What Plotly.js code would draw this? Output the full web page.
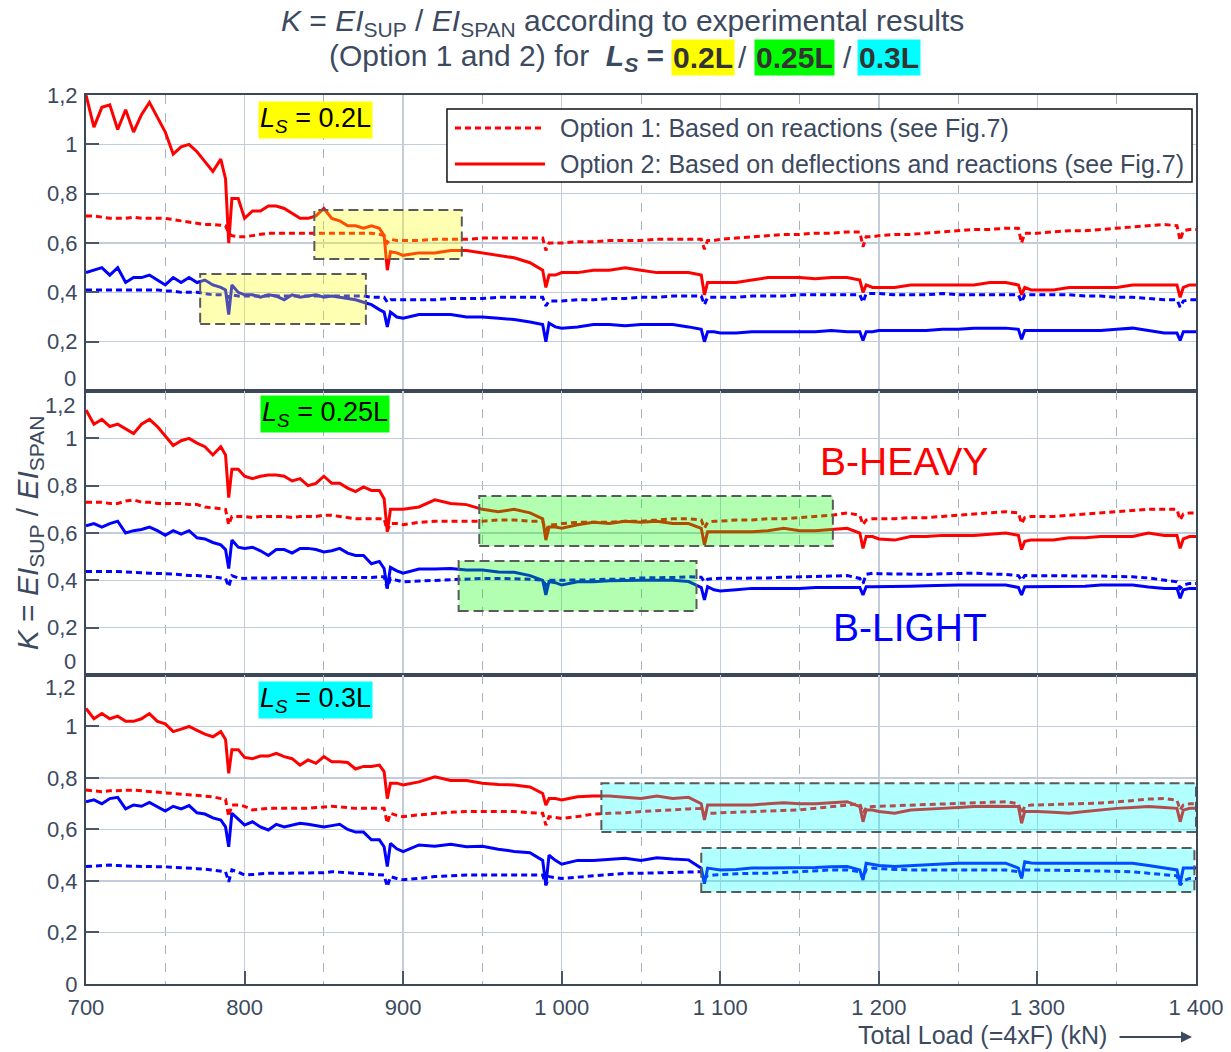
<!DOCTYPE html>
<html><head><meta charset="utf-8">
<script src="https://cdn.plot.ly/plotly-3.0.1.min.js"></script>
<style>html,body{margin:0;padding:0;background:#fff;}#chart{width:1231px;height:1052px;}</style>
</head><body><div id="chart"></div>
<script>
// ---------- DATA ----------
const loadKN = [
 700,705,710,715,720,725,730,735,740,745,750,755,760,765,770,775,780,785,
 788,790,792,
 796,800,805,810,815,820,825,830,835,840,845,850,855,860,865,870,875,880,885,
 888,890,892,
 896,900,910,920,930,940,950,960,970,980,
 988,990,992,
 996,1000,1010,1020,1030,1040,1050,1060,1070,1080,
 1088,1090,1092,
 1096,1100,1110,1120,1130,1140,1150,1160,1170,1180,
 1188,1190,1192,
 1196,1200,1210,1220,1230,1240,1250,1260,1270,1280,
 1288,1290,1292,
 1296,1300,1310,1320,1330,1340,1350,1360,1370,1380,
 1388,1390,1392,
 1396,1400];

const xTickVals = [700,800,900,1000,1100,1200,1300,1400];
const xTickText = ["700","800","900","1 000","1 100","1 200","1 300","1 400"];
const xMinorVals = [750,850,950,1050,1150,1250,1350];
const yTickVals = [0,0.2,0.4,0.6,0.8,1,1.2];
const yTickTextTop = ["","0,2","0,4","0,6","0,8","1","1,2"];
const yTickTextMid = ["","0,2","0,4","0,6","0,8","1",""];
const yTickTextBot = ["0","0,2","0,4","0,6","0,8","1",""];

// Ls = 0.2L
const ls02_opt1_heavy = [
 0.71,0.71,0.705,0.70,0.70,0.70,0.705,0.70,0.70,0.70,0.70,0.695,0.69,0.685,0.68,0.675,0.675,0.67,
 0.67,0.64,0.63,
 0.625,0.625,0.63,0.635,0.64,0.64,0.64,0.64,0.64,0.64,0.64,0.64,0.64,0.64,0.64,0.64,0.64,0.64,0.635,
 0.63,0.60,0.615,
 0.61,0.61,0.61,0.615,0.615,0.615,0.62,0.62,0.62,0.62,
 0.62,0.57,0.60,
 0.60,0.60,0.605,0.605,0.61,0.61,0.61,0.615,0.615,0.615,
 0.615,0.575,0.61,
 0.61,0.615,0.62,0.625,0.63,0.635,0.635,0.64,0.64,0.645,
 0.645,0.585,0.625,
 0.625,0.63,0.635,0.635,0.64,0.645,0.65,0.655,0.655,0.66,
 0.66,0.60,0.64,
 0.64,0.64,0.645,0.65,0.65,0.655,0.66,0.665,0.67,0.675,
 0.67,0.61,0.65,
 0.655,0.655];
const ls02_opt2_heavy = [
 1.20,1.07,1.15,1.16,1.06,1.14,1.05,1.12,1.17,1.11,1.05,0.96,0.99,1.00,0.97,0.93,0.89,0.94,
 0.86,0.60,0.78,
 0.78,0.70,0.73,0.73,0.75,0.75,0.74,0.72,0.70,0.70,0.71,0.74,0.70,0.69,0.67,0.67,0.66,0.67,0.66,
 0.63,0.49,0.565,
 0.56,0.55,0.56,0.56,0.57,0.57,0.56,0.55,0.54,0.52,
 0.49,0.42,0.47,
 0.47,0.48,0.48,0.49,0.49,0.50,0.49,0.48,0.48,0.48,
 0.47,0.39,0.44,
 0.44,0.44,0.44,0.45,0.46,0.46,0.46,0.455,0.46,0.46,
 0.45,0.40,0.43,
 0.42,0.42,0.42,0.43,0.43,0.43,0.43,0.43,0.44,0.44,
 0.43,0.39,0.42,
 0.41,0.41,0.41,0.42,0.42,0.42,0.42,0.43,0.43,0.43,
 0.43,0.38,0.42,
 0.43,0.43];
const ls02_opt1_light = [
 0.41,0.41,0.41,0.41,0.41,0.41,0.41,0.41,0.41,0.41,0.405,0.405,0.40,0.40,0.40,0.395,0.39,0.39,
 0.39,0.38,0.39,
 0.385,0.385,0.385,0.385,0.385,0.385,0.385,0.385,0.385,0.385,0.385,0.385,0.385,0.385,0.385,0.385,0.385,0.38,0.38,
 0.38,0.36,0.37,
 0.37,0.37,0.37,0.37,0.375,0.375,0.375,0.38,0.38,0.38,
 0.38,0.345,0.365,
 0.365,0.365,0.37,0.37,0.375,0.375,0.38,0.38,0.385,0.385,
 0.385,0.35,0.38,
 0.38,0.38,0.38,0.385,0.385,0.385,0.39,0.39,0.39,0.39,
 0.39,0.36,0.395,
 0.395,0.395,0.39,0.39,0.39,0.395,0.39,0.39,0.39,0.39,
 0.39,0.36,0.39,
 0.39,0.39,0.39,0.39,0.385,0.385,0.38,0.38,0.375,0.37,
 0.37,0.34,0.365,
 0.37,0.37];
const ls02_opt2_light = [
 0.48,0.49,0.50,0.47,0.50,0.44,0.46,0.46,0.47,0.45,0.43,0.46,0.44,0.46,0.44,0.45,0.43,0.42,
 0.41,0.31,0.43,
 0.40,0.39,0.39,0.38,0.39,0.385,0.37,0.39,0.38,0.385,0.39,0.38,0.385,0.38,0.375,0.37,0.36,0.35,0.33,
 0.32,0.26,0.32,
 0.30,0.295,0.31,0.31,0.31,0.30,0.30,0.295,0.29,0.28,
 0.27,0.20,0.275,
 0.26,0.255,0.26,0.27,0.27,0.265,0.27,0.27,0.27,0.26,
 0.25,0.20,0.24,
 0.24,0.235,0.235,0.24,0.24,0.24,0.24,0.24,0.245,0.24,
 0.24,0.205,0.24,
 0.24,0.245,0.245,0.245,0.245,0.25,0.25,0.255,0.255,0.255,
 0.25,0.21,0.245,
 0.245,0.245,0.245,0.245,0.245,0.245,0.25,0.255,0.245,0.235,
 0.235,0.205,0.24,
 0.24,0.24];

// Ls = 0.25L
const ls025_opt1_heavy = [
 0.73,0.73,0.73,0.725,0.725,0.735,0.74,0.73,0.73,0.725,0.725,0.725,0.725,0.72,0.72,0.71,0.705,0.70,
 0.70,0.635,0.67,
 0.67,0.67,0.665,0.67,0.67,0.67,0.67,0.665,0.67,0.67,0.67,0.675,0.675,0.67,0.665,0.66,0.66,0.66,0.66,
 0.66,0.61,0.64,
 0.64,0.635,0.645,0.65,0.65,0.65,0.65,0.655,0.655,0.65,
 0.65,0.61,0.635,
 0.635,0.64,0.645,0.645,0.645,0.65,0.65,0.655,0.66,0.66,
 0.655,0.62,0.645,
 0.65,0.65,0.655,0.655,0.66,0.66,0.665,0.67,0.675,0.685,
 0.675,0.635,0.655,
 0.66,0.66,0.66,0.665,0.665,0.67,0.675,0.68,0.685,0.69,
 0.685,0.64,0.665,
 0.67,0.67,0.67,0.675,0.68,0.685,0.69,0.695,0.70,0.70,
 0.70,0.655,0.68,
 0.685,0.685];
const ls025_opt2_heavy = [
 1.12,1.06,1.08,1.05,1.06,1.04,1.02,1.06,1.08,1.05,1.01,0.97,0.99,1.00,0.98,0.965,0.93,0.965,
 0.93,0.75,0.87,
 0.87,0.84,0.83,0.84,0.845,0.845,0.84,0.82,0.83,0.80,0.81,0.84,0.81,0.81,0.79,0.775,0.795,0.78,0.78,
 0.745,0.605,0.70,
 0.70,0.70,0.71,0.74,0.725,0.72,0.70,0.69,0.70,0.685,
 0.66,0.57,0.625,
 0.625,0.62,0.635,0.645,0.64,0.65,0.645,0.65,0.64,0.64,
 0.62,0.55,0.605,
 0.605,0.605,0.605,0.605,0.61,0.62,0.61,0.61,0.615,0.62,
 0.60,0.535,0.585,
 0.585,0.575,0.57,0.585,0.585,0.59,0.59,0.59,0.595,0.60,
 0.59,0.53,0.565,
 0.57,0.57,0.57,0.58,0.58,0.585,0.585,0.585,0.60,0.59,
 0.59,0.535,0.575,
 0.585,0.585];
const ls025_opt1_light = [
 0.437,0.437,0.44,0.437,0.437,0.435,0.432,0.432,0.43,0.43,0.43,0.427,0.424,0.42,0.42,0.418,0.415,0.41,
 0.408,0.373,0.42,
 0.41,0.408,0.41,0.41,0.41,0.41,0.41,0.41,0.41,0.41,0.41,0.41,0.41,0.41,0.41,0.41,0.41,0.412,0.415,
 0.415,0.366,0.408,
 0.40,0.394,0.397,0.40,0.403,0.406,0.408,0.408,0.408,0.405,
 0.40,0.38,0.40,
 0.40,0.40,0.40,0.402,0.405,0.405,0.41,0.41,0.412,0.415,
 0.413,0.394,0.405,
 0.408,0.408,0.41,0.41,0.41,0.413,0.415,0.418,0.42,0.42,
 0.408,0.387,0.425,
 0.43,0.428,0.426,0.425,0.425,0.428,0.43,0.43,0.427,0.425,
 0.42,0.40,0.42,
 0.42,0.42,0.42,0.42,0.42,0.418,0.416,0.415,0.41,0.40,
 0.394,0.366,0.38,
 0.387,0.387];
const ls025_opt2_light = [
 0.63,0.64,0.625,0.64,0.65,0.60,0.61,0.615,0.625,0.61,0.59,0.61,0.595,0.61,0.58,0.575,0.56,0.55,
 0.53,0.45,0.57,
 0.54,0.535,0.54,0.525,0.505,0.53,0.53,0.515,0.535,0.535,0.53,0.52,0.525,0.535,0.515,0.505,0.505,0.47,0.48,
 0.45,0.366,0.455,
 0.44,0.43,0.448,0.448,0.45,0.444,0.444,0.435,0.434,0.42,
 0.40,0.338,0.395,
 0.39,0.38,0.394,0.394,0.398,0.40,0.40,0.40,0.40,0.395,
 0.37,0.317,0.373,
 0.36,0.355,0.36,0.366,0.366,0.366,0.366,0.37,0.37,0.373,
 0.37,0.338,0.373,
 0.373,0.373,0.373,0.375,0.377,0.38,0.38,0.38,0.38,0.38,
 0.37,0.338,0.373,
 0.373,0.373,0.373,0.375,0.375,0.38,0.38,0.38,0.372,0.366,
 0.366,0.324,0.36,
 0.366,0.366];

// Ls = 0.3L
const ls03_opt1_heavy = [
 0.753,0.75,0.747,0.75,0.75,0.752,0.753,0.75,0.747,0.743,0.742,0.74,0.737,0.734,0.732,0.73,0.727,0.72,
 0.717,0.65,0.695,
 0.695,0.69,0.676,0.68,0.682,0.682,0.682,0.682,0.682,0.682,0.685,0.688,0.69,0.688,0.685,0.682,0.682,0.682,0.682,
 0.682,0.624,0.663,
 0.655,0.65,0.657,0.663,0.667,0.67,0.67,0.67,0.67,0.665,
 0.663,0.617,0.65,
 0.647,0.643,0.65,0.66,0.663,0.665,0.67,0.672,0.676,0.68,
 0.682,0.656,0.663,
 0.663,0.665,0.667,0.67,0.672,0.674,0.676,0.683,0.69,0.697,
 0.70,0.663,0.685,
 0.689,0.69,0.692,0.695,0.697,0.70,0.702,0.705,0.707,0.708,
 0.70,0.663,0.69,
 0.695,0.695,0.697,0.70,0.70,0.703,0.707,0.712,0.718,0.72,
 0.714,0.676,0.695,
 0.70,0.70];
const ls03_opt2_heavy = [
 1.07,1.03,1.05,1.03,1.04,1.02,1.02,1.03,1.05,1.02,1.01,0.98,0.99,1.00,0.985,0.97,0.96,0.98,
 0.95,0.818,0.91,
 0.91,0.88,0.875,0.885,0.885,0.896,0.883,0.875,0.85,0.87,0.857,0.883,0.863,0.863,0.86,0.835,0.845,0.845,0.85,
 0.825,0.72,0.78,
 0.78,0.773,0.785,0.805,0.79,0.79,0.78,0.775,0.773,0.765,
 0.74,0.695,0.72,
 0.72,0.715,0.727,0.73,0.73,0.725,0.72,0.73,0.72,0.725,
 0.70,0.637,0.695,
 0.695,0.695,0.695,0.695,0.70,0.704,0.70,0.70,0.704,0.708,
 0.689,0.63,0.676,
 0.676,0.67,0.663,0.676,0.68,0.682,0.685,0.689,0.69,0.69,
 0.689,0.624,0.67,
 0.67,0.67,0.667,0.663,0.67,0.677,0.682,0.685,0.689,0.685,
 0.682,0.63,0.675,
 0.682,0.682];
const ls03_opt1_light = [
 0.456,0.458,0.46,0.462,0.46,0.458,0.456,0.456,0.456,0.456,0.455,0.453,0.452,0.45,0.448,0.446,0.443,0.44,
 0.436,0.397,0.443,
 0.435,0.423,0.425,0.428,0.43,0.43,0.43,0.43,0.43,0.43,0.43,0.432,0.436,0.434,0.432,0.43,0.428,0.425,0.423,
 0.423,0.378,0.417,
 0.41,0.405,0.41,0.417,0.42,0.423,0.423,0.423,0.423,0.423,
 0.423,0.384,0.417,
 0.413,0.41,0.415,0.42,0.425,0.43,0.43,0.432,0.434,0.436,
 0.436,0.41,0.42,
 0.423,0.425,0.428,0.43,0.43,0.433,0.436,0.44,0.443,0.443,
 0.436,0.41,0.445,
 0.45,0.448,0.445,0.443,0.443,0.445,0.445,0.445,0.443,0.443,
 0.436,0.417,0.443,
 0.443,0.443,0.442,0.441,0.44,0.438,0.437,0.436,0.43,0.425,
 0.42,0.384,0.40,
 0.41,0.41];
const ls03_opt2_light = [
 0.708,0.715,0.70,0.72,0.725,0.68,0.695,0.69,0.705,0.69,0.672,0.69,0.68,0.693,0.665,0.66,0.645,0.637,
 0.61,0.533,0.663,
 0.64,0.617,0.63,0.61,0.598,0.62,0.61,0.617,0.624,0.62,0.615,0.61,0.615,0.62,0.60,0.59,0.59,0.56,0.56,
 0.533,0.456,0.546,
 0.525,0.514,0.54,0.535,0.543,0.533,0.535,0.523,0.515,0.51,
 0.48,0.384,0.50,
 0.48,0.465,0.48,0.48,0.483,0.488,0.48,0.49,0.485,0.482,
 0.45,0.39,0.45,
 0.445,0.443,0.445,0.45,0.45,0.45,0.45,0.452,0.455,0.456,
 0.443,0.404,0.469,
 0.465,0.46,0.456,0.46,0.462,0.466,0.469,0.469,0.469,0.469,
 0.45,0.41,0.475,
 0.47,0.469,0.469,0.469,0.469,0.47,0.469,0.469,0.46,0.45,
 0.443,0.39,0.45,
 0.45,0.45];

// ---------- STYLE / LAYOUT ----------
const FONT = 'Liberation Sans, Arial, sans-serif';
const TXT = '#3c4a5f';
const RED = '#ff0000', BLUE = '#0000ff';
const DOTS = '6px,4px';

const panels = [
  {xa:'x',  ya:'y',  h1:ls02_opt1_heavy,  h2:ls02_opt2_heavy,  l1:ls02_opt1_light,  l2:ls02_opt2_light},
  {xa:'x2', ya:'y2', h1:ls025_opt1_heavy, h2:ls025_opt2_heavy, l1:ls025_opt1_light, l2:ls025_opt2_light},
  {xa:'x3', ya:'y3', h1:ls03_opt1_heavy,  h2:ls03_opt2_heavy,  l1:ls03_opt1_light,  l2:ls03_opt2_light}
];

const traces = [];
panels.forEach(p => {
  [[p.h1, RED, DOTS],[p.l1, BLUE, DOTS],[p.h2, RED, 'solid'],[p.l2, BLUE, 'solid']].forEach(s => {
    traces.push({x: loadKN, y: s[0], xaxis: p.xa, yaxis: p.ya, type:'scatter', mode:'lines',
      line:{color:s[1], width:3, dash:s[2]}, showlegend:false, hoverinfo:'skip'});
  });
});

const AX = '#3c4858';
function xAxis(anchor, showLabels){
  return {
    anchor: anchor, range:[700,1400], tickmode:'array', tickvals:xTickVals, ticktext:xTickText,
    showticklabels: showLabels, ticks: showLabels ? 'inside' : '', ticklen:13, tickwidth:2, tickcolor:'#4a566a',
    tickfont:{family:FONT, size:22, color:TXT}, ticklabelstandoff:3,
    showgrid:true, gridcolor:'#c3ccd9', gridwidth:1.5,
    minor:{tickmode:'array', tickvals:xMinorVals, showgrid:true, gridcolor:'#a7b2c3', griddash:'dash', gridwidth:1, ticks:''},
    showline:true, mirror:true, linecolor:AX, linewidth:2, zeroline:false, fixedrange:true
  };
}
function yAxis(domain, anchor, texts){
  return {
    domain: domain, anchor: anchor, range:[0,1.2], tickmode:'array', tickvals:yTickVals, ticktext:texts,
    ticks:'inside', ticklen:13, tickwidth:2, tickcolor:'#4a566a',
    tickfont:{family:FONT, size:22, color:TXT}, ticklabelstandoff:2,
    showgrid:true, gridcolor:'#c3ccd9', gridwidth:1.5,
    showline:true, mirror:true, linecolor:AX, linewidth:2, zeroline:false, fixedrange:true
  };
}

const boxes = [
  {xr:'x',  yr:'y',  x0:844,  x1:937,  y0:0.535, y1:0.734, fill:'rgba(255,255,0,0.3)'},
  {xr:'x',  yr:'y',  x0:772,  x1:876.5,y0:0.272, y1:0.474, fill:'rgba(255,255,0,0.3)'},
  {xr:'x2', yr:'y2', x0:948,  x1:1171, y0:0.545, y1:0.756, fill:'rgba(0,255,0,0.3)'},
  {xr:'x2', yr:'y2', x0:935,  x1:1085, y0:0.27,  y1:0.482, fill:'rgba(0,255,0,0.3)'},
  {xr:'x3', yr:'y3', x0:1025, x1:1400, y0:0.59,  y1:0.78,  fill:'rgba(0,255,255,0.3)'},
  {xr:'x3', yr:'y3', x0:1088, x1:1399, y0:0.357, y1:0.528, fill:'rgba(0,255,255,0.3)'}
];
const shapes = boxes.map(b => ({type:'rect', xref:b.xr, yref:b.yr, x0:b.x0, x1:b.x1, y0:b.y0, y1:b.y1,
  fillcolor:b.fill, line:{color:'#5a5a5a', width:2, dash:'10px,5px'}, layer:'above'}));
// legend frame and samples
shapes.push({type:'rect', xref:'paper', yref:'paper', x0:0.3252, x1:0.9964, y0:0.9021, y1:0.9843,
  fillcolor:'#ffffff', line:{color:'#111111', width:1.5}, layer:'above'});
shapes.push({type:'line', xref:'paper', yref:'paper', x0:0.3324, x1:0.4135, y0:0.9629, y1:0.9629,
  line:{color:RED, width:3, dash:DOTS}, layer:'above'});
shapes.push({type:'line', xref:'paper', yref:'paper', x0:0.3324, x1:0.4135, y0:0.9224, y1:0.9224,
  line:{color:RED, width:3}, layer:'above'});

function ann(o){ return Object.assign({showarrow:false, xref:'paper', yref:'paper', font:{family:FONT, size:22, color:TXT}}, o); }
const T = 30;
const annotations = [
  // shifted boundary tick labels
  ann({text:'0',   yref:'y',  y:0,   yshift:13,  x:0, xanchor:'right', xshift:-8}),
  ann({text:'1,2', yref:'y2', y:1.2, yshift:-14, x:0, xanchor:'right', xshift:-8}),
  ann({text:'0',   yref:'y2', y:0,   yshift:13,  x:0, xanchor:'right', xshift:-8}),
  ann({text:'1,2', yref:'y3', y:1.2, yshift:-13, x:0, xanchor:'right', xshift:-8}),
  // title
  ann({text:'<i>K</i> = <i>EI</i><sub>SUP</sub> / <i>EI</i><sub>SPAN</sub> according to experimental results',
       x:0.4829, y:1.0821, xanchor:'center', yanchor:'middle', font:{family:FONT, size:T, color:TXT}}),
  ann({text:'(Option 1 and 2) for  <b><i>L</i><sub><i>S</i></sub> =</b>', x:0.5225, y:1.0427, xanchor:'right', yanchor:'middle', font:{family:FONT, size:T, color:TXT}}),
  ann({text:'<b>0.2L</b>', x:0.5559, y:1.0427, xanchor:'center', yanchor:'middle', bgcolor:'#ffff00', borderpad:1, font:{family:FONT, size:T, color:'#333333'}}),
  ann({text:'/', x:0.5910, y:1.0427, xanchor:'center', yanchor:'middle', font:{family:FONT, size:T, color:TXT}}),
  ann({text:'<b>0.25L</b>', x:0.6387, y:1.0427, xanchor:'center', yanchor:'middle', bgcolor:'#00ff00', borderpad:1, font:{family:FONT, size:T, color:'#333333'}}),
  ann({text:'/', x:0.6856, y:1.0427, xanchor:'center', yanchor:'middle', font:{family:FONT, size:T, color:TXT}}),
  ann({text:'<b>0.3L</b>', x:0.7230, y:1.0427, xanchor:'center', yanchor:'middle', bgcolor:'#00ffff', borderpad:1, font:{family:FONT, size:T, color:'#333333'}}),
  // y title
  ann({text:'<i>K</i> = <i>EI</i><sub>SUP</sub> / <i>EI</i><sub>SPAN</sub>', x:-0.0514, y:0.508, textangle:-90,
       xanchor:'center', yanchor:'middle', font:{family:FONT, size:T, color:TXT}}),
  // x title and arrow
  ann({text:'Total Load (=4xF) (kN)', x:0.8077, y:-0.0574, xanchor:'center', yanchor:'middle', font:{family:FONT, size:25, color:TXT}}),
  {text:'', xref:'paper', yref:'paper', x:0.9964, y:-0.0596, ax:-74, ay:0, showarrow:true, arrowhead:2, arrowsize:1.1, arrowwidth:2, arrowcolor:TXT},
  // legend texts
  ann({text:'Option 1: Based on reactions (see Fig.7)', x:0.4252, y:0.9629, xanchor:'left', yanchor:'middle', font:{family:FONT, size:25, color:TXT}}),
  ann({text:'Option 2: Based on deflections and reactions (see Fig.7)', x:0.4252, y:0.9224, xanchor:'left', yanchor:'middle', font:{family:FONT, size:25, color:TXT}}),
  // panel labels
  ann({text:'<i>L</i><sub><i>S</i></sub> = 0.2L', x:0.2072, y:0.972, xanchor:'center', yanchor:'middle', bgcolor:'#ffff00', borderpad:1, font:{family:FONT, size:27, color:'#000000'}}),
  ann({text:'<i>L</i><sub><i>S</i></sub> = 0.25L', x:0.2153, y:0.641, xanchor:'center', yanchor:'middle', bgcolor:'#00ff00', borderpad:1, font:{family:FONT, size:27, color:'#000000'}}),
  ann({text:'<i>L</i><sub><i>S</i></sub> = 0.3L', x:0.2072, y:0.3195, xanchor:'center', yanchor:'middle', bgcolor:'#00ffff', borderpad:1, font:{family:FONT, size:27, color:'#000000'}}),
  ann({text:'B-HEAVY', x:0.737, y:0.588, xanchor:'center', yanchor:'middle', font:{family:FONT, size:39, color:RED}}),
  ann({text:'B-LIGHT', x:0.742, y:0.4005, xanchor:'center', yanchor:'middle', font:{family:FONT, size:39, color:BLUE}})
];

const layout = {
  width:1231, height:1052,
  margin:{l:86, r:35, t:95, b:68, pad:0},
  paper_bgcolor:'#ffffff', plot_bgcolor:'#ffffff',
  font:{family:FONT, color:TXT},
  showlegend:false,
  xaxis: xAxis('y', false),
  xaxis2: xAxis('y2', false),
  xaxis3: xAxis('y3', true),
  yaxis: yAxis([0.667, 1], 'x', yTickTextTop),
  yaxis2: yAxis([0.3476, 0.667], 'x2', yTickTextMid),
  yaxis3: yAxis([0, 0.3476], 'x3', yTickTextBot),
  shapes: shapes,
  annotations: annotations
};

Plotly.newPlot('chart', traces, layout, {displayModeBar:false, staticPlot:true});
</script>
</body></html>
